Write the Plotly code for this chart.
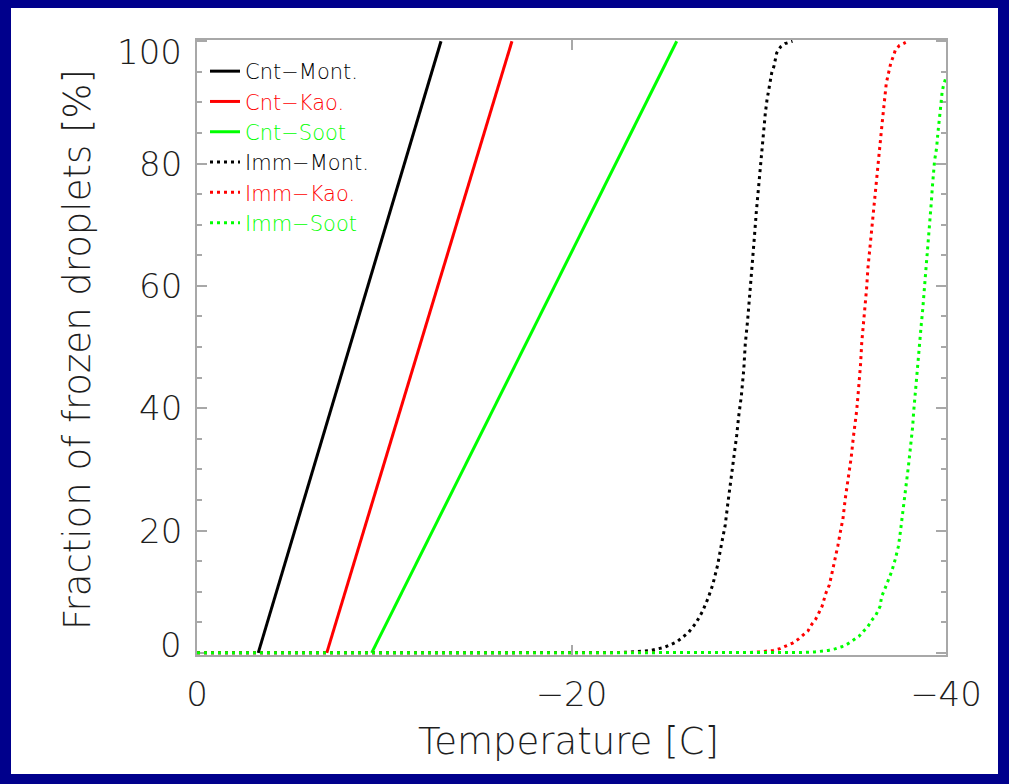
import plotly.graph_objects as go

# Temperature [C] (negative, decreasing to the right) and frozen fraction [%]
cnt_mont_t = [-3.27, -13.03]
cnt_mont_f = [0, 100]
cnt_kao_t = [-6.93, -16.82]
cnt_kao_f = [0, 100]
cnt_soot_t = [-9.33, -25.62]
cnt_soot_f = [0, 100]

imm_mont_t = [0, -10, -21.0, -22.5, -23.5, -24.25, -24.96, -25.62, -26.24, -26.65, -27.0,
              -27.29, -27.54, -27.8, -28.0, -28.21, -28.36, -28.5, -28.66, -28.82, -28.93,
              -29.07, -29.2, -29.28, -29.41, -29.53, -29.66, -29.76, -29.87, -29.98, -30.08,
              -30.17, -30.26, -30.35, -30.44, -30.56, -30.69, -30.81, -30.96, -31.17, -31.4, -31.8]
imm_mont_f = [0, 0, 0, 0.05, 0.2, 0.4, 0.9, 1.8, 3.3, 4.9, 6.8,
              8.9, 11.1, 14.3, 17.6, 20.9, 24.7, 27.9, 32.2, 35.5, 38.7,
              42.0, 46.3, 50.5, 54.5, 58.8, 63.1, 67.7, 72.1, 76.1, 79.4,
              82.6, 85.9, 88.2, 90.4, 92.7, 94.8, 95.9, 98.1, 99.1, 99.6, 100]

imm_kao_t = [0, -20, -28.5, -29.5, -30.03, -30.42, -30.78, -31.13, -31.45, -31.81, -32.1,
             -32.38, -32.63, -32.84, -33.04, -33.22, -33.38, -33.59, -33.77, -33.93, -34.09,
             -34.23, -34.36, -34.5, -34.62, -34.73, -34.84, -34.94, -35.05, -35.14, -35.23,
             -35.32, -35.39, -35.44, -35.5, -35.57, -35.62, -35.69, -35.76, -35.83, -35.9,
             -35.98, -36.05, -36.12, -36.19, -36.26, -36.31, -36.39, -36.48, -36.55, -36.62,
             -36.69, -36.76, -36.81, -36.88, -36.96, -37.05, -37.17, -37.29, -37.51, -37.85]
imm_kao_f = [0, 0, 0, 0.05, 0.16, 0.3, 0.4, 0.7, 1.1, 1.6, 2.2,
             3.0, 3.6, 4.7, 5.5, 6.6, 7.6, 9.8, 11.1, 13.3, 15.4,
             17.6, 19.8, 22.0, 25.2, 27.4, 29.5, 32.0, 35.2, 37.4, 39.6,
             42.8, 45.1, 47.3, 50.7, 52.8, 55.0, 57.3, 59.6, 62.9, 65.2,
             67.4, 69.6, 71.8, 74.3, 76.4, 78.6, 80.9, 83.2, 85.4, 87.5,
             89.8, 92.0, 93.1, 94.1, 95.2, 96.4, 97.4, 98.5, 99.3, 99.8]

imm_soot_t = [0, -20, -30.0, -32.3, -33.0, -33.36, -33.72, -34.07, -34.43, -34.77, -35.09,
              -35.35, -35.58, -35.81, -36.03, -36.26, -36.48, -36.56, -36.74, -36.92, -37.1,
              -37.28, -37.45, -37.54, -37.63, -37.72, -37.81, -37.9, -37.99, -38.08, -38.17,
              -38.22, -38.27, -38.33, -38.38, -38.43, -38.49, -38.54, -38.61, -38.68, -38.75,
              -38.81, -38.88, -38.93, -39.0, -39.05, -39.11, -39.16, -39.22, -39.27, -39.32,
              -39.39, -39.45, -39.5, -39.57, -39.63, -39.68, -39.73, -39.79, -39.86, -39.98, -40.0]
imm_soot_f = [0, 0, 0, 0.05, 0.15, 0.27, 0.4, 0.65, 1.0, 1.5, 2.1,
              2.7, 3.5, 4.2, 5.3, 6.2, 7.6, 9.2, 10.5, 11.8, 13.3,
              15.2, 17.3, 19.2, 21.7, 23.9, 26.0, 28.2, 30.4, 32.7, 35.0,
              37.0, 39.3, 41.5, 43.7, 45.9, 48.1, 49.3, 51.5, 53.7, 55.9,
              58.1, 60.4, 62.6, 64.8, 67.2, 69.4, 71.5, 73.8, 76.1, 78.3,
              80.5, 81.6, 82.6, 85.1, 87.3, 88.3, 89.7, 91.6, 92.7, 93.9, 94.3]

x_ticks = [0, -20, -40]
x_tick_labels = ["0", "−20", "−40"]
y_ticks = [0, 20, 40, 60, 80, 100]
y_tick_labels = ["0", "20", "40", "60", "80", "100"]

series = [
    ("Cnt−Mont.", cnt_mont_t, cnt_mont_f, "#000000", "solid"),
    ("Cnt−Kao.", cnt_kao_t, cnt_kao_f, "#ff0000", "solid"),
    ("Cnt−Soot", cnt_soot_t, cnt_soot_f, "#00ff00", "solid"),
    ("Imm−Mont.", imm_mont_t, imm_mont_f, "#000000", "3px,4px"),
    ("Imm−Kao.", imm_kao_t, imm_kao_f, "#ff0000", "3px,4px"),
    ("Imm−Soot", imm_soot_t, imm_soot_f, "#00ff00", "3px,4px"),
]

NAVY = "#00008c"
TEXT = "#1e1e1e"
AXIS = "#a8a8a8"
FONT = "DejaVu Sans"
WEIGHT = 300

fig = go.Figure()
for name, t, f, color, dash in series:
    fig.add_trace(go.Scatter(
        x=t, y=f, mode="lines",
        name=f'<span style="color:{color}">{name}</span>',
        line=dict(color=color, width=3, dash=dash),
    ))

L, R, T, B = 197, 63, 40, 129
W, H = 1009, 784
pw, ph = W - L - R, H - T - B

def px_x(p):
    return (p - L) / pw

def px_y(p):
    return (H - B - p) / ph

# white panel inside the navy frame
fig.add_shape(type="rect", xref="paper", yref="paper", layer="below",
              x0=px_x(11), x1=px_x(998), y0=px_y(774), y1=px_y(8),
              fillcolor="white", line=dict(width=0))

annotations = []
for v, lab in zip(y_ticks, y_tick_labels):
    shift = 0
    if v == 0:
        shift = 8
    elif v == 100:
        shift = -11
    annotations.append(dict(
        x=0, xref="paper", y=v, yref="y", text=lab, showarrow=False,
        xanchor="right", yanchor="middle", xshift=-13, yshift=shift,
        font=dict(family=FONT, size=34, color=TEXT, weight=WEIGHT)))

annotations.append(dict(
    x=px_x(568), y=px_y(742), xref="paper", yref="paper",
    text="Temperature [C]", showarrow=False, xanchor="center", yanchor="middle",
    font=dict(family=FONT, size=37, color=TEXT, weight=WEIGHT)))
annotations.append(dict(
    x=px_x(77), y=px_y(350), xref="paper", yref="paper", textangle=-90,
    text="Fraction of frozen droplets [%]", showarrow=False,
    xanchor="center", yanchor="middle",
    font=dict(family=FONT, size=37, color=TEXT, weight=WEIGHT)))

fig.update_layout(
    width=W, height=H,
    margin=dict(l=L, r=R, t=T, b=B),
    paper_bgcolor=NAVY,
    plot_bgcolor="white",
    annotations=annotations,
    showlegend=True,
    legend=dict(
        x=px_x(205), y=px_y(51), xanchor="left", yanchor="top",
        bgcolor="rgba(0,0,0,0)", borderwidth=0,
        font=dict(family=FONT, size=21, color=TEXT, weight=WEIGHT),
        traceorder="normal",
    ),
    xaxis=dict(
        range=[0, -40], tickvals=x_ticks, ticktext=x_tick_labels,
        ticks="inside", ticklen=10, tickwidth=2, tickcolor=AXIS,
        showline=True, linecolor=AXIS, linewidth=2, mirror="allticks",
        showgrid=False, zeroline=False, layer="below traces",
        tickfont=dict(family=FONT, size=34, color=TEXT, weight=WEIGHT),
        ticklabelstandoff=8,
    ),
    yaxis=dict(
        range=[-0.35, 100.2], tickvals=y_ticks, showticklabels=False,
        ticks="inside", ticklen=10, tickwidth=2, tickcolor=AXIS,
        minor=dict(dtick=5, tick0=0, ticks="inside", ticklen=5, tickwidth=2, tickcolor=AXIS),
        showline=True, linecolor=AXIS, linewidth=2, mirror="allticks",
        showgrid=False, zeroline=False, layer="below traces",
    ),
)

fig.write_html("out.html")
